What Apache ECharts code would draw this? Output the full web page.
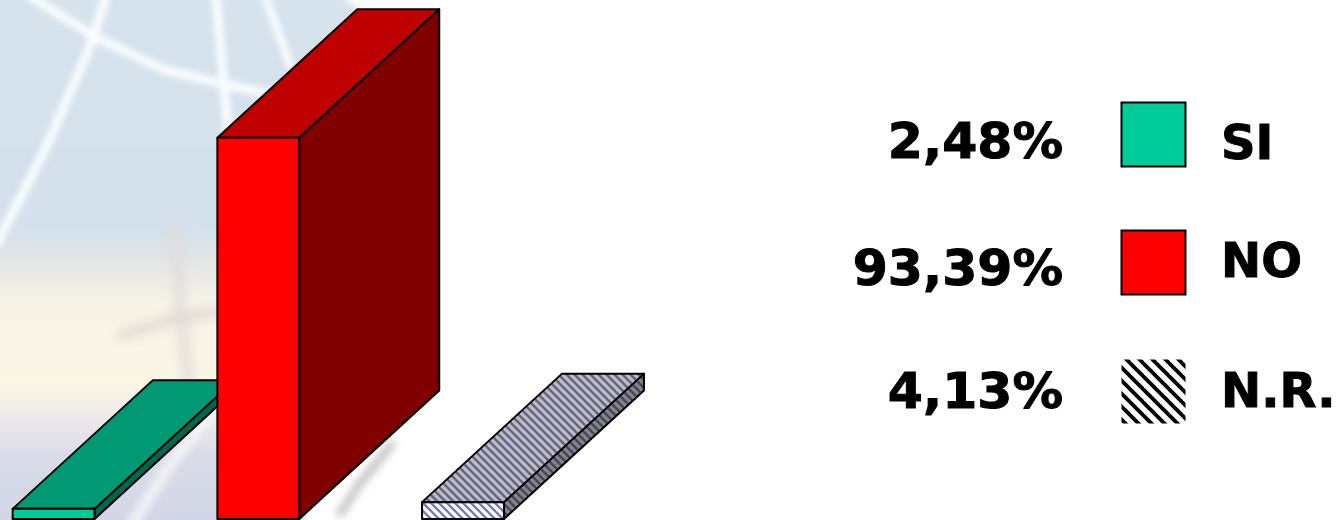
<!DOCTYPE html>
<html><head><meta charset="utf-8">
<style>html,body{margin:0;padding:0;background:#fff}#c{width:1336px;height:520px}</style>
<script src="https://cdn.jsdelivr.net/npm/echarts@6/dist/echarts.min.js"></script>
</head><body><div id="c"></div>
<script>
const categories = ['SI', 'NO', 'N.R.'];
const values = [2.48, 93.39, 4.13];
const percentLabels = ['2,48%', '93,39%', '4,13%'];

function stripes(bg, fg, period, width) {
  const c = document.createElement('canvas');
  c.width = c.height = period;
  const g = c.getContext('2d');
  g.fillStyle = bg; g.fillRect(0, 0, period, period);
  g.strokeStyle = fg; g.lineWidth = width;
  for (let k = -period; k <= period; k += period) {
    g.beginPath(); g.moveTo(k - 2, -2); g.lineTo(k + period + 2, period + 2); g.stroke();
  }
  return { image: c, repeat: 'repeat' };
}
const faces = [
  { front: '#00cc99', top: '#009973', side: '#00664d' },
  { front: '#ff0000', top: '#bf0000', side: '#800000' },
  { front: stripes('#ffffff', '#7a7ab4', 8, 2.4),
    top: stripes('#bdbdbd', '#62628e', 8, 2.4),
    side: stripes('#858585', '#45455f', 8, 2.4) }
];
const swatches = ['#00cc99', '#ff0000', stripes('#ffffff', '#000000', 13, 3.8)];

const depthX = 140, depthY = -128.5;

function renderBar(params, api) {
  const i = api.value(0);
  const base = api.coord([i, 0]);
  const top = api.coord([i, api.value(1)]);
  const w = api.size([1, 0])[0] * 0.4;
  const l = base[0] - w / 2, r = base[0] + w / 2, yb = base[1], yt = top[1];
  const ln = { stroke: '#000', lineWidth: 2, lineJoin: 'round' };
  const f = faces[i];
  const poly = (pts, fill) => ({ type: 'polygon', shape: { points: pts }, style: Object.assign({ fill }, ln) });
  return { type: 'group', children: [
    poly([[r, yb], [r + depthX, yb + depthY], [r + depthX, yt + depthY], [r, yt]], f.side),
    poly([[l, yt], [l + depthX, yt + depthY], [r + depthX, yt + depthY], [r, yt]], f.top),
    poly([[l, yb], [r, yb], [r, yt], [l, yt]], f.front)
  ] };
}

function backdrop() {
  const c = document.createElement('canvas');
  c.width = 460; c.height = 520;
  const g = c.getContext('2d');
  const grad = g.createLinearGradient(0, 0, 0, 520);
  [[0, '#d6e3ec'], [0.44, '#d4e1ec'], [0.5, '#e3e5e6'], [0.58, '#f7f3e6'],
   [0.74, '#fcf6e6'], [0.81, '#ebe8ea'], [0.88, '#d8dbe8'], [1, '#d3d6e6']]
    .forEach(s => grad.addColorStop(s[0], s[1]));
  g.filter = 'blur(3px)';
  g.fillStyle = grad;
  g.beginPath(); g.moveTo(-10, -10); g.lineTo(335, -10); g.lineTo(362, 12); g.lineTo(304, 530); g.lineTo(-10, 530); g.closePath(); g.fill();
  const line = (pts, color, w, blur) => {
    g.filter = 'blur(' + blur + 'px)';
    g.strokeStyle = color; g.lineWidth = w; g.lineCap = 'round'; g.lineJoin = 'round';
    g.beginPath(); pts.forEach((p, k) => k ? g.lineTo(p[0], p[1]) : g.moveTo(p[0], p[1])); g.stroke();
  };
  const w = 'rgba(252,254,255,0.95)';
  line([[30, -4], [95, 37], [165, 70], [250, 90], [300, 100]], w, 9, 3);
  line([[106, -4], [92, 42], [45, 150], [-4, 245]], w, 9, 3);
  line([[216, -4], [222, 65], [228, 130]], w, 9, 3);
  line([[265, -4], [290, 65]], w, 8, 3);
  line([[175, 225], [180, 300], [190, 400]], 'rgba(224,220,220,0.7)', 14, 5);
  line([[122, 335], [170, 320], [216, 312]], 'rgba(222,214,210,0.7)', 12, 5);
  line([[132, 524], [170, 465], [216, 405]], 'rgba(248,248,250,0.95)', 10, 4);
  line([[340, 514], [358, 486], [392, 444]], 'rgba(140,140,140,0.7)', 6, 4);
  return c;
}

const swatchY = [102, 230, 359];
const pctY = [158, 285, 408];
const labY = [159, 277, 407];
const legend = [];
categories.forEach((c, i) => {
  legend.push({ type: 'rect', z: 5, shape: { x: 1121.5, y: swatchY[i] + 0.5, width: 64, height: 64 },
    style: i < 2 ? { fill: swatches[i], stroke: '#000', lineWidth: 2 } : { fill: swatches[i] } });
  legend.push({ type: 'text', z: 5, x: 1063, y: pctY[i] - 38.5,
    style: { text: percentLabels[i], fill: '#000', stroke: '#000', lineWidth: 1, font: 'bold 50.5px "DejaVu Sans"', align: 'right', verticalAlign: 'top' } });
  legend.push({ type: 'text', z: 5, x: 1221, y: labY[i] - 36,
    style: { text: c, fill: '#000', stroke: '#000', lineWidth: 1, font: 'bold 48px "DejaVu Sans"', align: 'left', verticalAlign: 'top' } });
});

const chart = echarts.init(document.getElementById('c'), null, { renderer: 'canvas' });
chart.setOption({
  animation: false,
  backgroundColor: '#ffffff',
  grid: { left: 0, width: 600, top: 10, height: 509 },
  xAxis: { type: 'value', min: -53.6 / 204.7, max: 546.4 / 204.7, show: false },
  yAxis: { type: 'value', min: 0, max: 124.66, show: false },
  graphic: { elements: [{ type: 'image', z: 0, x: 0, y: 0, style: { image: backdrop(), x: 0, y: 0, width: 460, height: 520 } }].concat(legend) },
  series: [{
    type: 'custom', clip: false, coordinateSystem: 'cartesian2d',
    encode: { x: 0, y: 1 },
    data: values.map((v, i) => [i, v]),
    renderItem: renderBar
  }]
});
</script></body></html>
